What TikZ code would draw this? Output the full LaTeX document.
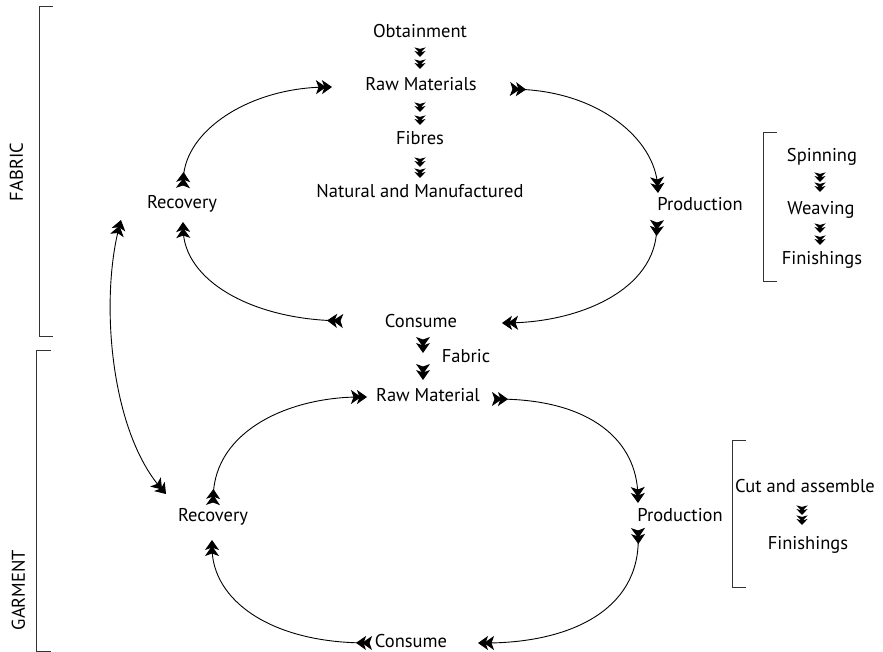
\documentclass[tikz,border=0pt]{standalone}
\usepackage{fontspec}
\setmainfont{PT Sans}
\usetikzlibrary{arrows.meta}
\begin{document}
\begin{tikzpicture}[x=1pt,y=-1pt,
  lbl/.style={font=\fontsize{18.5}{20}\selectfont, inner sep=0pt, text height=13pt, text depth=3.5pt},
  fl/.tip={Stealth[length=10pt,width=14pt,inset=2.5pt,sep=-4pt] Stealth[length=10pt,width=14pt,inset=2.5pt]},
  flr/.tip={Stealth[length=10pt,width=14pt,inset=2.5pt,sep=-4pt,reversed] Stealth[length=10pt,width=14pt,inset=2.5pt,reversed]},
  flow/.style={line width=0.9pt, {flr}-{fl}},
  both/.style={line width=0.9pt, {fl}-{fl}},
  bracket/.style={line width=1pt, draw=black!80},
  pics/mark/.style={code={
    \fill (0,0) -- (-10,7) -- (-7.5,0) -- (-10,-7) -- cycle;
    \fill (-6,0) -- (-16,7) -- (-13.5,0) -- (-16,-7) -- cycle;
  }},
  down/.style={rotate=-90},
  small/.style={rotate=-90, xscale=0.6, yscale=0.8}
]
\useasboundingbox (0,0) rectangle (883,652);

% ---------- fabric cycle ----------
\node[lbl] (obt)   at (420,33)  {Obtainment};
\node[lbl] (rm)    at (421,86)  {Raw Materials};
\node[lbl] (fib)   at (420,140) {Fibres};
\node[lbl] (nat)   at (420,193) {Natural and Manufactured};
\node[lbl] (rec1)  at (182,204) {Recovery};
\node[lbl] (prod1) at (700,206) {Production};
\node[lbl] (cons1) at (421,323) {Consume};

\coordinate (rmL)  at (332,87);
\coordinate (rmR)  at (510,89);
\coordinate (p1T)  at (658,193);
\coordinate (p1B)  at (657,220);
\coordinate (c1R)  at (502,323);
\coordinate (c1L)  at (343,321);
\coordinate (r1B)  at (183,222);
\coordinate (r1T)  at (183,188);
\coordinate (r1X)  at (121,220);

\draw[flow] (rmR) .. controls (600,92) and (655,140) .. (p1T);
\draw[flow] (p1B) .. controls (655,290) and (580,322) .. (c1R);
\draw[flow] (c1L) .. controls (250,318) and (184,280) .. (r1B);
\draw[flow] (r1T) .. controls (185,130) and (250,88) .. (rmL);

% steps of the raw material chain
\path (420,57) pic[small]{mark} (420,69) pic[small]{mark};
\path (420,112) pic[small]{mark} (420,125) pic[small]{mark};
\path (420,167) pic[small]{mark} (420,178) pic[small]{mark};

% production steps
\node[lbl] (spin) at (822,157) {Spinning};
\node[lbl] (weav) at (821,210) {Weaving};
\node[lbl] (fin1) at (822,260) {Finishings};
\path (820,182) pic[small]{mark} (820,192) pic[small]{mark};
\path (820,233) pic[small]{mark} (820,245) pic[small]{mark};
\draw[bracket] (777,133) -- (763,133) -- (763,282) -- (777,282);

% ---------- link between the cycles ----------
\node[lbl] (fabl) at (466,358) {Fabric};
\path (423,353) pic[down]{mark} (423,380) pic[down]{mark};

% ---------- garment cycle ----------
\node[lbl] (rm2)   at (428,397) {Raw Material};
\node[lbl] (rec2)  at (213,517) {Recovery};
\node[lbl] (prod2) at (680,517) {Production};
\node[lbl] (cons2) at (411,643) {Consume};

\coordinate (rm2L) at (367,397);
\coordinate (rm2R) at (492,399);
\coordinate (p2T)  at (638,503);
\coordinate (p2B)  at (638,528);
\coordinate (c2R)  at (478,643);
\coordinate (c2L)  at (372,643);
\coordinate (r2B)  at (212,540);
\coordinate (r2T)  at (213,505);
\coordinate (r2X)  at (166,494);

\draw[flow] (rm2R) .. controls (590,400) and (637,440) .. (p2T);
\draw[flow] (p2B) .. controls (640,610) and (570,643) .. (c2R);
\draw[flow] (c2L) .. controls (270,642) and (212,600) .. (r2B);
\draw[flow] (r2T) .. controls (215,430) and (290,397) .. (rm2L);

% recovery exchange between garment and fabric
\draw[both] (r2X) .. controls (110,430) and (100,300) .. (r1X);

\node[lbl] (cut)  at (805,488) {Cut and assemble};
\node[lbl] (fin2) at (808,545) {Finishings};
\path (802,515) pic[small]{mark} (802,525) pic[small]{mark};
\draw[bracket] (746,440) -- (732,440) -- (732,587) -- (746,587);

% ---------- section brackets ----------
\draw[bracket] (53,6.5) -- (39.5,6.5) -- (39.5,336) -- (53,336);
\draw[bracket] (51,350) -- (36,350) -- (36,651.5) -- (51,651.5);
\node[lbl, rotate=90] (fabric)  at (18,172) {FABRIC};
\node[lbl, rotate=90] (garment) at (20,590) {GARMENT};
\end{tikzpicture}
\end{document}
